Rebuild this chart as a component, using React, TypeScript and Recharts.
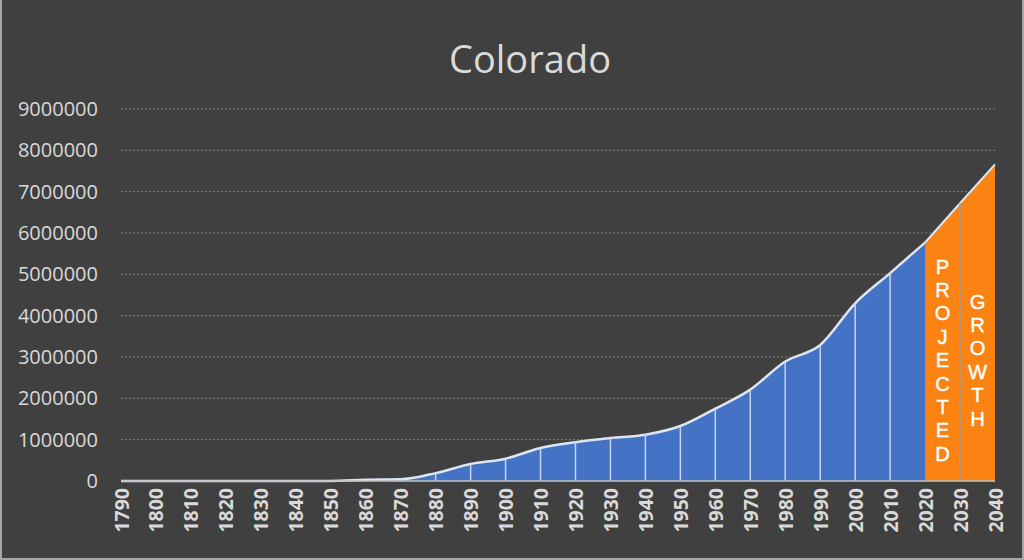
import {
  Area,
  AreaChart,
  CartesianGrid,
  ReferenceArea,
  ReferenceLine,
  XAxis,
  YAxis,
} from 'recharts';

const YEARS = [
  1790, 1800, 1810, 1820, 1830, 1840, 1850, 1860, 1870, 1880, 1890, 1900, 1910,
  1920, 1930, 1940, 1950, 1960, 1970, 1980, 1990, 2000, 2010, 2020, 2030, 2040,
];

// census counts (blue), null where not drawn
const CENSUS = [
  0, 0, 0, 0, 0, 0, 0, 30000, 40000, 190000, 410000, 540000, 800000, 940000,
  1040000, 1120000, 1330000, 1750000, 2210000, 2890000, 3290000, 4300000,
  5030000, 5770000, null, null,
];

// projected counts (orange)
const PROJECTED = [
  null, null, null, null, null, null, null, null, null, null, null, null, null,
  null, null, null, null, null, null, null, null, null, null, 5770000, 6720000,
  7660000,
];

const Y_TICKS = [0, 1000000, 2000000, 3000000, 4000000, 5000000, 6000000, 7000000, 8000000, 9000000];

const WORDS = ['PROJECTED', 'GROWTH'];

const data = YEARS.map((year, i) => ({
  year,
  census: CENSUS[i],
  projected: PROJECTED[i],
}));

const TEXT = '#d9d9d9';
const BLUE = '#4472c4';
const ORANGE = '#fb8313';
const EDGE = '#dde5f3';

function YearTick({ x, y, payload }: { x?: number; y?: number; payload?: { value: number } }) {
  return (
    <text
      x={x}
      y={y}
      transform={`rotate(-90 ${x} ${y})`}
      textAnchor="end"
      dominantBaseline="central"
      fill={TEXT}
      fontFamily="Open Sans"
      fontWeight={700}
      fontSize={19.5}
    >
      {payload?.value}
    </text>
  );
}

// stacked upright letters
function VerticalWord({
  viewBox,
  word,
}: {
  viewBox?: { x: number; y: number; width: number; height: number };
  word: string;
}) {
  if (!viewBox) return null;
  const cx = viewBox.x + viewBox.width / 2;
  const cy = viewBox.y + viewBox.height * 0.675;
  const step = 23.4;
  const letters = word.split('');
  const top = cy - ((letters.length - 1) / 2) * step;
  return (
    <g>
      {letters.map((ch, i) => (
        <text
          key={i}
          x={cx}
          y={top + i * step}
          fill="#ffffff"
          fontFamily="Liberation Sans"
          fontSize={20.2}
          textAnchor="middle"
          dominantBaseline="central"
          stroke="#ffffff"
          strokeWidth={0.4}
        >
          {ch}
        </text>
      ))}
    </g>
  );
}

export default function App() {
  const dividers = data.filter(
    (d, i) => i < data.length - 1 && d.year !== 2020 && ((d.census ?? 0) > 0 || (d.projected ?? 0) > 0),
  );
  return (
    <div
      style={{
        position: 'absolute',
        left: 0,
        top: 0,
        width: 1024,
        height: 560,
        background: '#404040',
        boxShadow: 'inset 2px 0 0 #a6a6a6, inset -2px 0 0 #a6a6a6, inset 0 -2px 0 #a6a6a6',
      }}
    >
      <svg width={1024} height={100} style={{ position: 'absolute', left: 0, top: 0 }}>
        <text
          x={530}
          y={73}
          textAnchor="middle"
          fill={TEXT}
          fontFamily="Open Sans"
          fontSize={38}
        >
          Colorado
        </text>
      </svg>
      <AreaChart
        width={1024}
        height={560}
        data={data}
        margin={{ top: 109, right: 29, bottom: 0, left: 0 }}
        style={{ position: 'absolute', left: 0, top: 0 }}
      >
        <CartesianGrid vertical={false} stroke="#808080" strokeDasharray="2 2" />
        <XAxis
          dataKey="year"
          scale="point"
          interval={0}
          height={79}
          tickSize={0}
          tickMargin={7}
          tickLine={false}
          axisLine={{ stroke: '#bfbfbf', strokeWidth: 1.5 }}
          tick={<YearTick />}
        />
        <YAxis
          domain={[0, 9000000]}
          ticks={Y_TICKS}
          width={121}
          tickSize={0}
          tickMargin={23}
          tickLine={false}
          axisLine={false}
          tick={{ fill: TEXT, fontSize: 20, fontFamily: 'Open Sans' }}
        />
        <Area
          type="monotone"
          dataKey="census"
          stroke={EDGE}
          strokeWidth={2.5}
          fill={BLUE}
          fillOpacity={1}
          connectNulls={false}
          isAnimationActive={false}
        />
        <Area
          type="linear"
          dataKey="projected"
          stroke={EDGE}
          strokeWidth={2}
          fill={ORANGE}
          fillOpacity={1}
          connectNulls={false}
          isAnimationActive={false}
        />
        {dividers.map((d) => (
          <ReferenceLine
            key={d.year}
            segment={[
              { x: d.year, y: 0 },
              { x: d.year, y: d.projected ?? d.census ?? 0 },
            ]}
            stroke={d.projected != null ? '#b39a80' : '#c9d5ee'}
            strokeWidth={1.5}
          />
        ))}
        <ReferenceArea
          x1={2020}
          x2={2030}
          fillOpacity={0}
          strokeOpacity={0}
          label={<VerticalWord word={WORDS[0]} />}
        />
        <ReferenceArea
          x1={2030}
          x2={2040}
          fillOpacity={0}
          strokeOpacity={0}
          label={<VerticalWord word={WORDS[1]} />}
        />
      </AreaChart>
    </div>
  );
}
